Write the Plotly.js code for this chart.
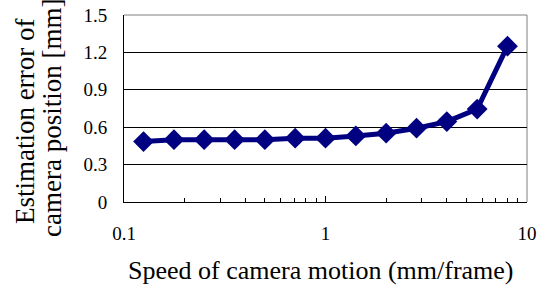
<!DOCTYPE html>
<html>
<head>
<meta charset="utf-8">
<script src="https://cdn.plot.ly/plotly-3.0.1.min.js"></script>
<style>html,body{margin:0;padding:0;background:#fff;}#chart{width:539px;height:294px;}</style>
</head>
<body>
<div id="chart"></div>
<script>
const speed = [0.125, 0.177, 0.25, 0.354, 0.5, 0.707, 1.0, 1.414, 2.0, 2.83, 4.0, 5.66, 8.0];
const error = [0.485, 0.50, 0.50, 0.50, 0.50, 0.512, 0.512, 0.53, 0.552, 0.592, 0.645, 0.745, 1.25];
const xTickVals = [0.1, 1, 10];
const xTickText = ['0.1', '1', '10'];
const yTickVals = [0, 0.3, 0.6, 0.9, 1.2, 1.5];
const yTickText = ['0', '0.3', '0.6', '0.9', '1.2', '1.5'];
const xTitle = 'Speed of camera motion (mm/frame)';
const yTitleLines = ['Estimation error of', 'camera position [mm]'];

const font = 'Liberation Serif, Times New Roman, serif';
const trace = {
  x: speed, y: error, type: 'scatter', mode: 'lines+markers',
  line: {color: '#000080', width: 5},
  marker: {symbol: 'diamond', size: 16, color: '#000080'},
  cliponaxis: false
};
const layout = {
  width: 539, height: 294,
  margin: {l: 124, r: 12, t: 15, b: 92},
  paper_bgcolor: '#fff', plot_bgcolor: '#fff',
  showlegend: false,
  font: {family: font, color: '#000', size: 19},
  xaxis: {
    type: 'log', range: [-1, 1],
    tickvals: xTickVals, ticktext: xTickText,
    ticks: 'inside', ticklen: 6, tickcolor: '#000', tickwidth: 1,
    ticklabelstandoff: 14,
    minor: {ticks: 'inside', ticklen: 4, tickcolor: '#000', dtick: 'D1', showgrid: false},
    showgrid: false, zeroline: false,
    showline: true, linecolor: '#000', linewidth: 1,
    tickfont: {family: font, size: 19, color: '#000'}
  },
  yaxis: {
    range: [0, 1.5],
    tickvals: yTickVals, ticktext: yTickText,
    ticks: '', ticklabelstandoff: 12,
    showgrid: true, gridcolor: '#000', gridwidth: 1,
    zeroline: false,
    showline: true, linecolor: '#000', linewidth: 1,
    tickfont: {family: font, size: 19, color: '#000'}
  },
  annotations: [
    {text: xTitle, xref: 'paper', yref: 'paper', x: 0.49, y: -0.364, xanchor: 'center', yanchor: 'middle', showarrow: false, font: {family: font, size: 26, color: '#000'}},
    {text: yTitleLines[0], xref: 'paper', yref: 'paper', x: -0.2457, y: 0.433, xanchor: 'center', yanchor: 'middle', textangle: -90, showarrow: false, font: {family: font, size: 27, color: '#000'}},
    {text: yTitleLines[1], xref: 'paper', yref: 'paper', x: -0.1787, y: 0.449, xanchor: 'center', yanchor: 'middle', textangle: -90, showarrow: false, font: {family: font, size: 27, color: '#000'}}
  ],
  shapes: [
    {type: 'line', xref: 'paper', yref: 'paper', x0: 0, x1: 1, y0: 1, y1: 1, line: {color: '#808080', width: 1}, layer: 'below'},
    {type: 'line', xref: 'paper', yref: 'paper', x0: 1, x1: 1, y0: 0, y1: 1, line: {color: '#808080', width: 1}, layer: 'below'}
  ]
};
Plotly.newPlot('chart', [trace], layout, {displayModeBar: false, staticPlot: true});
</script>
</body>
</html>
